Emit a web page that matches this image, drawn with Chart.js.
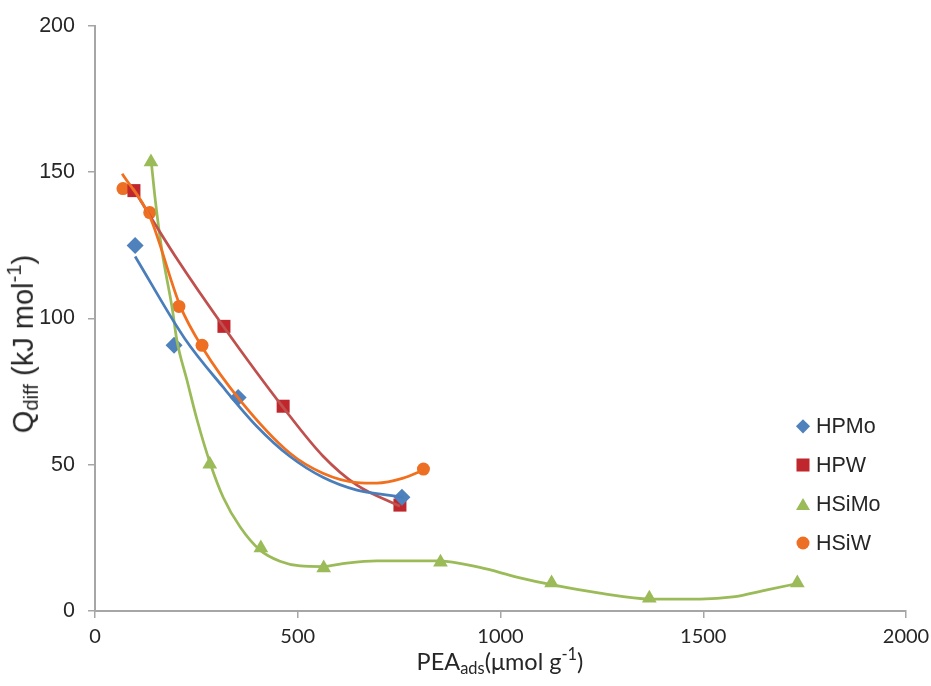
<!DOCTYPE html>
<html>
<head>
<meta charset="utf-8">
<script src="https://cdn.jsdelivr.net/npm/chart.js@4"></script>
<style>
  body { margin: 0; background: #fff; }
  #wrap { position: relative; width: 931px; height: 686px; }
  #chart { position: absolute; left: 0; top: 0; }
  .ytitle {
    position: absolute; left: 23px; top: 344px;
    transform: translate(-50%, -50%) rotate(-90deg);
    font: 29px "Liberation Sans", Arial, sans-serif; color: #262626; white-space: nowrap;
  }
  .xtitle {
    position: absolute; left: 500px; top: 661px;
    transform: translate(-50%, -50%);
    font: 23.5px Lato, sans-serif; color: #262626; white-space: nowrap;
  }
  sub, sup { font-size: 70%; }
  sub { vertical-align: -0.25em; }
  sup { vertical-align: 0.6em; }
  .leg { position: absolute; left: 794px; height: 26px; display: flex; align-items: center;
    font: 21.5px "Liberation Sans", Arial, sans-serif; color: #262626; }
  .mk { width: 18px; height: 18px; position: relative; margin-right: 4px; }
  .mk i { position: absolute; left: 50%; top: 50%; transform: translate(-50%, -50%); display: block; }
  .dia { width: 9.5px; height: 9.5px; background: #4F81BD; transform: translate(-50%, -50%) rotate(45deg) !important; }
  .sq { width: 13px; height: 13px; background: #C0272D; }
  .tri { width: 14px; height: 12px; background: #9BBB59; clip-path: polygon(50% 0, 100% 100%, 0 100%); }
  .cir { width: 13px; height: 13px; background: #EC6F23; border-radius: 50%; }
</style>
</head>
<body>
<div id="wrap">
  <canvas id="chart" width="931" height="686"></canvas>
  <div class="ytitle">Q<sub>diff</sub> (kJ mol<sup>-1</sup>)</div>
  <div class="xtitle">PEA<sub>ads</sub>(μmol g<sup>-1</sup>)</div>
  <div class="leg" style="top:413px"><div class="mk"><i class="dia"></i></div>HPMo</div>
  <div class="leg" style="top:452px"><div class="mk"><i class="sq"></i></div>HPW</div>
  <div class="leg" style="top:491px"><div class="mk"><i class="tri"></i></div>HSiMo</div>
  <div class="leg" style="top:530px"><div class="mk"><i class="cir"></i></div>HSiW</div>
</div>
<script>
// measured points
const hpmoX = [99, 195, 353, 757];
const hpmoY = [124.9, 90.8, 73.0, 38.9];
const hpwX = [96, 318, 464, 752];
const hpwY = [143.7, 97.3, 70.0, 36.2];
const hsimoX = [138, 283, 409, 564, 852, 1126, 1367, 1732];
const hsimoY = [153.5, 50.2, 21.5, 14.7, 16.7, 9.6, 4.4, 9.6];
const hsiwX = [69, 135, 207, 264, 810];
const hsiwY = [144.4, 136.2, 104.1, 90.8, 48.5];

// trendlines
const hpmoTrendX = [99, 222, 316, 400, 481, 562, 646, 727, 760];
const hpmoTrendY = [121.2, 93.0, 76.5, 63.0, 52.8, 45.7, 41.3, 39.5, 38.9];
const hpwTrendX = [94, 200, 318, 464, 562, 646, 752];
const hpwTrendY = [144.4, 120.8, 97.0, 69.6, 53.0, 43.0, 35.8];
const hsiwTrendX = [67, 136, 210, 266, 358, 481, 562, 646, 695, 760, 809];
const hsiwTrendY = [149.5, 134.5, 104.3, 89.8, 72.0, 53.9, 47.1, 43.9, 43.7, 45.4, 48.1];
const hsimoTrendX = [138, 148, 165, 190, 202, 227, 252, 284, 316, 358, 407, 456, 506, 560, 621, 695, 843, 949, 1040, 1129, 1245, 1369, 1492, 1573, 1657, 1739];
const hsimoTrendY = [154.6, 141.3, 123.2, 103.8, 92.5, 78.8, 65.2, 50.5, 38.9, 28.7, 20.8, 17.0, 15.4, 15.2, 16.4, 17.1, 17.1, 14.9, 11.6, 8.9, 6.1, 4.1, 4.1, 4.8, 7.2, 9.6];

const xTicks = [0, 500, 1000, 1500, 2000];
const yTicks = [0, 50, 100, 150, 200];

const pts = (xs, ys) => xs.map((x, i) => ({ x, y: ys[i] }));

const marker = (label, xs, ys, style, color, r) => ({
  label, data: pts(xs, ys), showLine: false, order: 5,
  pointStyle: style, pointRadius: r, pointHoverRadius: r,
  backgroundColor: color, borderColor: color, borderWidth: 0,
});
const trend = (xs, ys, color) => ({
  data: pts(xs, ys), showLine: true, order: 1, pointRadius: 0,
  borderColor: color, borderWidth: 2.75, cubicInterpolationMode: "monotone", fill: false,
});

const axisGrey = "#a6a6a6";
new Chart(document.getElementById("chart"), {
  type: "scatter",
  data: {
    datasets: [
      marker("HPMo", hpmoX, hpmoY, "rectRot", "#4F81BD", 8.5),
      marker("HPW", hpwX, hpwY, "rect", "#C0272D", 9.2),
      marker("HSiMo", hsimoX, hsimoY, "triangle", "#9BBB59", 8.5),
      marker("HSiW", hsiwX, hsiwY, "circle", "#EC6F23", 6.5),
      trend(hpmoTrendX, hpmoTrendY, "#4A7EBB"),
      trend(hsiwTrendX, hsiwTrendY, "#F07020"),
      trend(hpwTrendX, hpwTrendY, "#C0504D"),
      trend(hsimoTrendX, hsimoTrendY, "#9BBB59"),
    ],
  },
  options: {
    responsive: false,
    devicePixelRatio: 1,
    animation: false,
    layout: { padding: { top: 25, right: 25, left: 0, bottom: 0 } },
    plugins: { legend: { display: false }, tooltip: { enabled: false } },
    scales: {
      x: {
        type: "linear", min: 0, max: 2000,
        afterBuildTicks: (s) => { s.ticks = xTicks.map((v) => ({ value: v })); },
        ticks: { color: "#262626", font: { family: "Lato", size: 20 }, padding: 7, maxRotation: 0,
          callback: (v) => String(v) },
        grid: { drawOnChartArea: false, tickLength: 7, color: axisGrey, lineWidth: 1.5 },
        border: { color: axisGrey, width: 2 },
        afterFit: (s) => { s.height = 75; s.paddingLeft = 0; s.paddingRight = 0; },
      },
      y: {
        min: 0, max: 200,
        afterBuildTicks: (s) => { s.ticks = yTicks.map((v) => ({ value: v })); },
        ticks: { color: "#262626", font: { family: "Liberation Sans", size: 21.5 }, padding: 13,
          callback: (v) => String(v) },
        grid: { drawOnChartArea: false, tickLength: 7, color: axisGrey, lineWidth: 1.5 },
        border: { color: axisGrey, width: 2 },
        afterFit: (s) => { s.width = 95; },
      },
    },
  },
});
</script>
</body>
</html>
